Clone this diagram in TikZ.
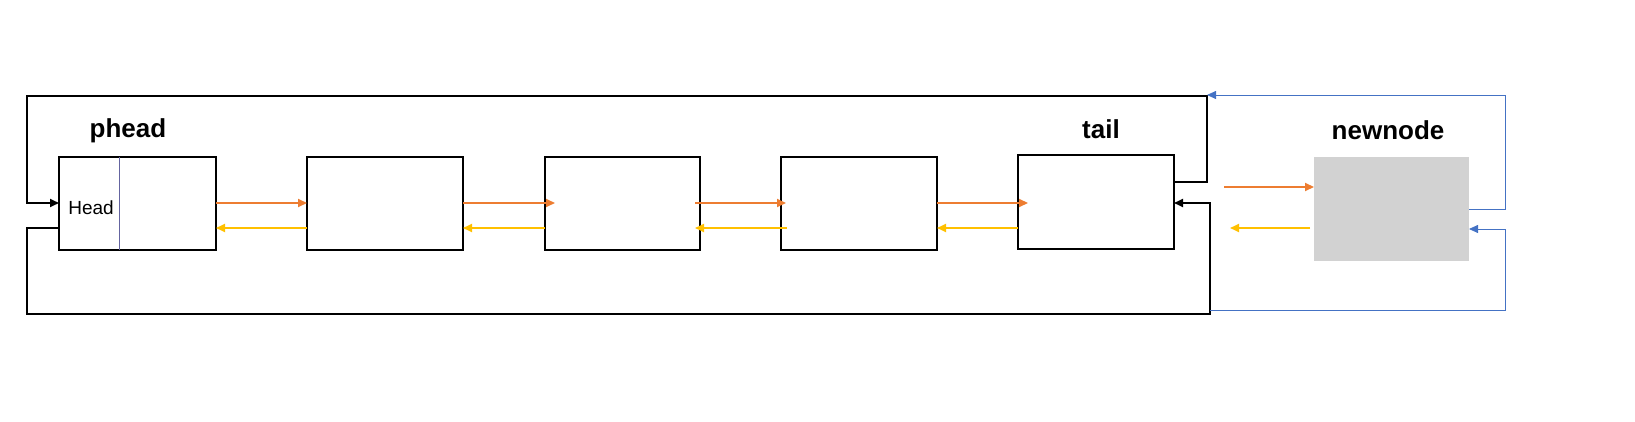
\documentclass[tikz,border=0pt]{standalone}
\usepackage{fontspec}
\setmainfont{Liberation Sans}
\usetikzlibrary{arrows.meta}
\begin{document}
\begin{tikzpicture}[x=1pt,y=-1pt,
  box/.style={draw=black,line width=1.5pt},
  fw/.style={draw={rgb,255:red,237;green,125;blue,49},line width=2pt,-{Triangle[length=9pt,width=8pt]}},
  bw/.style={draw={rgb,255:red,255;green,192;blue,0},line width=2pt,-{Triangle[length=9pt,width=8pt]}},
  loop/.style={draw=black,line width=2pt,-{Triangle[length=9pt,width=8pt]}},
  blue/.style={draw={rgb,255:red,68;green,114;blue,196},line width=0.8pt,-{Triangle[length=9pt,width=8pt]}},
  lbl/.style={font=\fontsize{26}{30}\selectfont\bfseries}]
\useasboundingbox (0,0) rectangle (1635,422);
\draw[box] (59,157) rectangle (216,250);
\draw[draw={rgb,255:red,100;green,100;blue,160},line width=0.8pt] (119,157) -- (119,250);
\node[font=\fontsize{19}{22}\selectfont] (h) at (91,208) {Head};
\draw[box] (307,157) rectangle (463,250);
\draw[box] (545,157) rectangle (700,250);
\draw[box] (781,157) rectangle (937,250);
\draw[box] (1018,155) rectangle (1174,249);
\fill[gray!35] (1314,157) rectangle (1469,261);
\node[lbl] (ph) at (128,131) {phead};
\node[lbl] (tl) at (1101,129) {tail};
\node[lbl] (nn) at (1388,130) {newnode};
\draw[fw] (216,203) -- (307,203);
\draw[fw] (463,203) -- (555,203);
\draw[fw] (695,203) -- (786,203);
\draw[fw] (937,203) -- (1028,203);
\draw[fw] (1224,187) -- (1314,187);
\draw[bw] (307,228) -- (216,228);
\draw[bw] (545,228) -- (463,228);
\draw[bw] (787,228) -- (695,228);
\draw[bw] (1018,228) -- (937,228);
\draw[bw] (1310,228) -- (1230,228);
\draw[loop] (1174,182) -- (1207,182) -- (1207,96) -- (27,96) -- (27,203) -- (59,203);
\draw[loop] (59,228) -- (27,228) -- (27,314) -- (1210,314) -- (1210,203) -- (1174,203);
\draw[blue] (1469,209) -- (1505,209) -- (1505,95) -- (1207,95);
\draw[blue] (1210,310) -- (1505,310) -- (1505,229) -- (1469,229);
\end{tikzpicture}
\end{document}
